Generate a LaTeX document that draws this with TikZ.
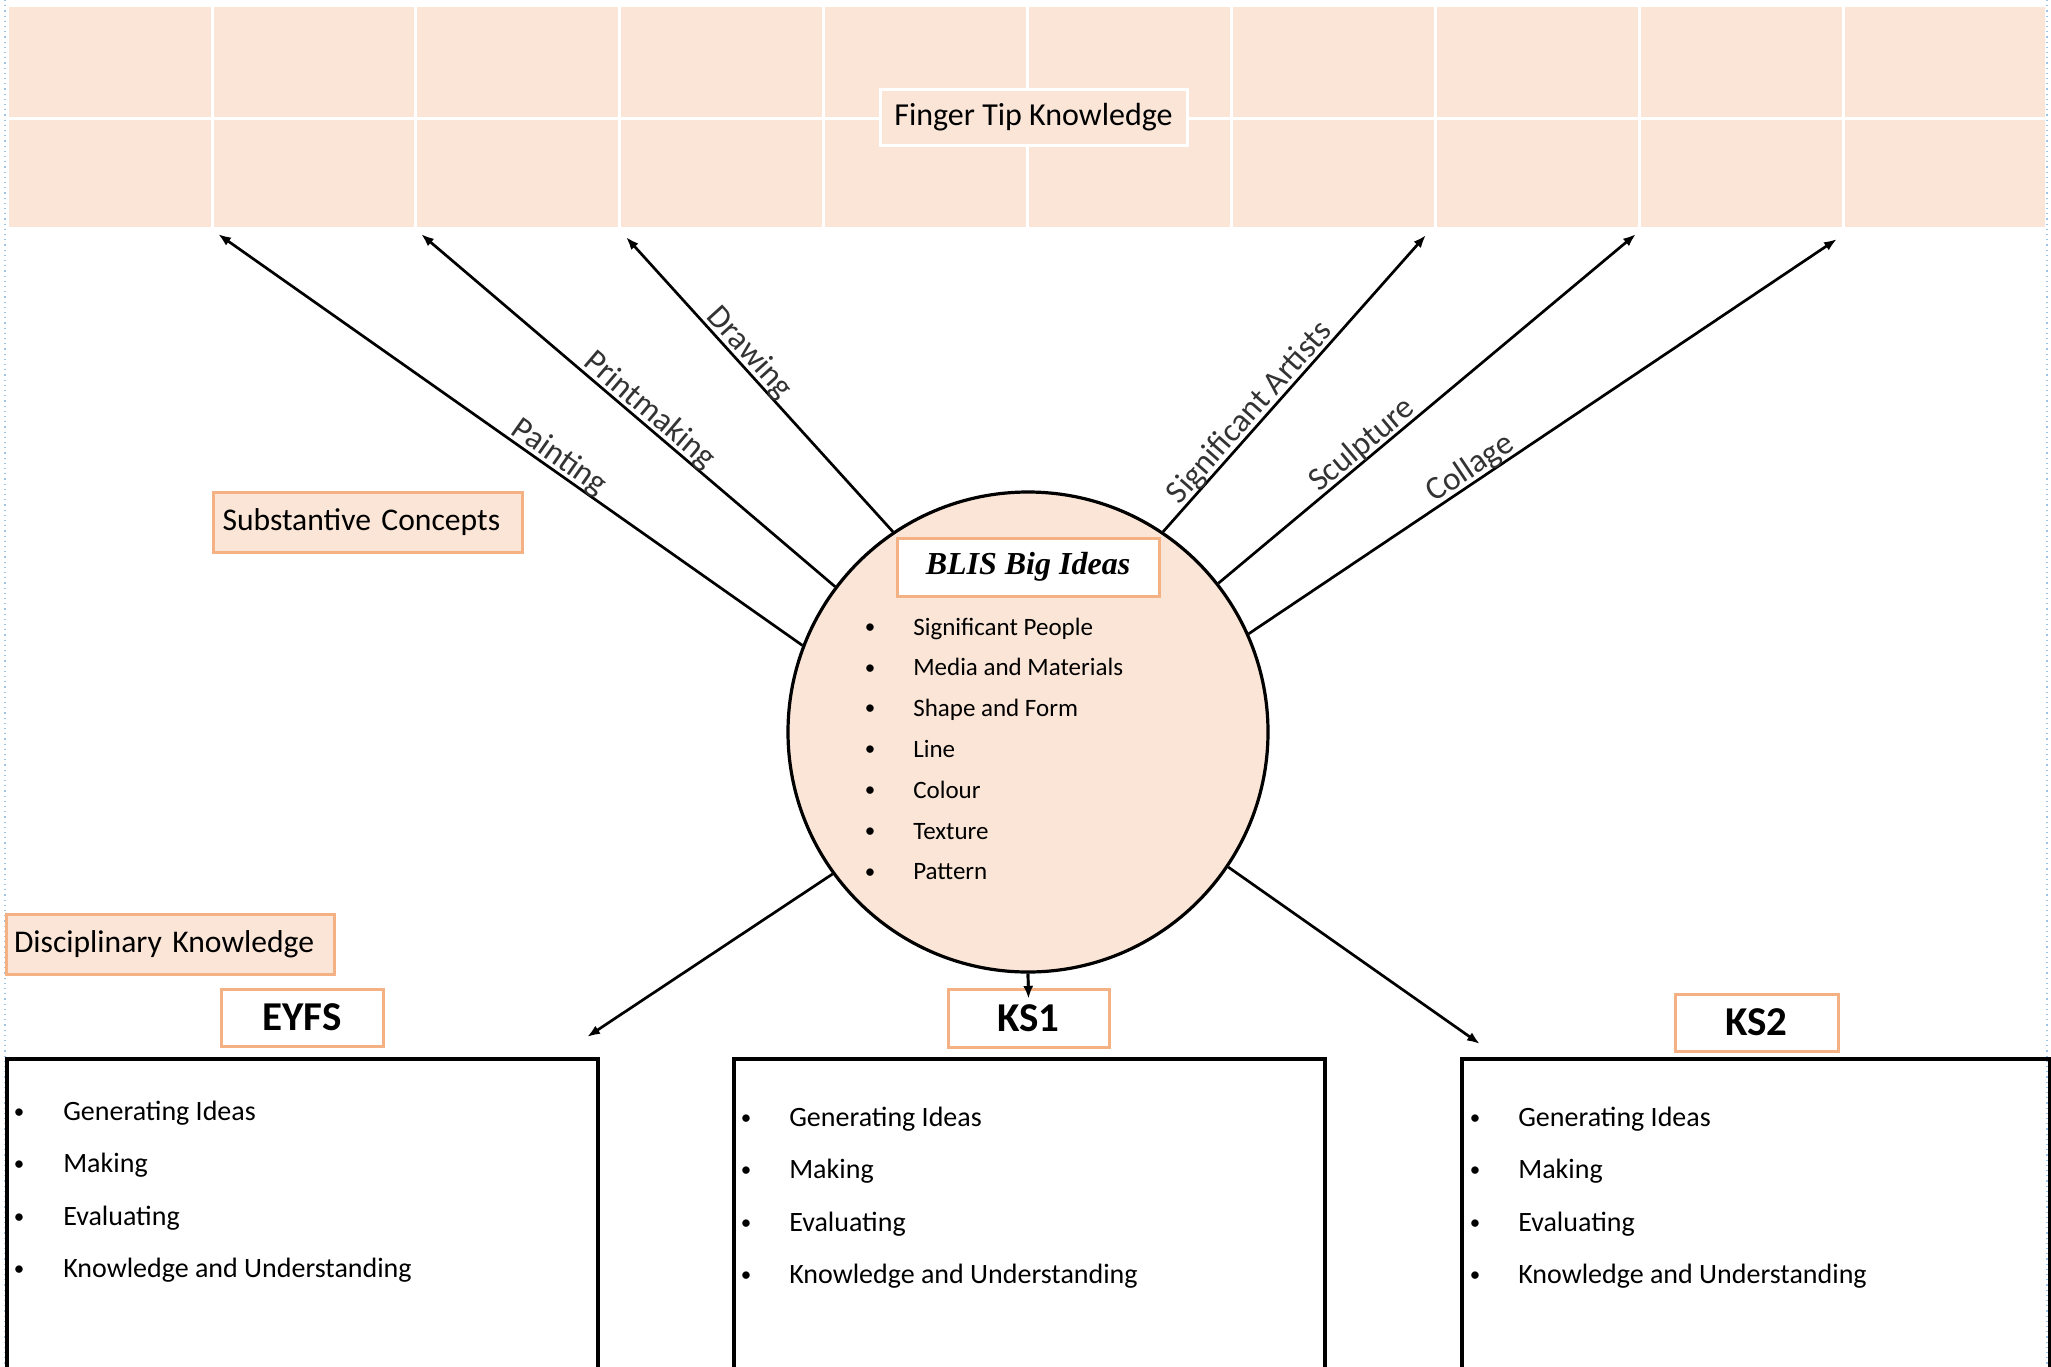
\documentclass[tikz,border=0pt]{standalone}
\usepackage{fontspec}
\setmainfont{Carlito}
\newfontfamily\blisfont{Liberation Serif}
\usetikzlibrary{arrows.meta}
\definecolor{peach}{HTML}{FBE5D6}
\definecolor{orangeb}{HTML}{F4B183}
\definecolor{guide}{HTML}{9DC3E6}
\newcommand\bdot{\raisebox{0.9pt}{\fontsize{10.5pt}{10.5pt}\selectfont •}}
\begin{document}
\begin{tikzpicture}[x=0.5pt,y=-0.5pt,
  arr/.style={-{Latex[length=6.5pt,width=4.8pt]}, line width=1.35pt},
  lbl/.style={sloped, above=-2pt, inner sep=1pt, font=\fontsize{16.5pt}{18pt}\selectfont, text=black!80},
  obox/.style={draw=orangeb, line width=1.5pt, fill=white, inner sep=0pt},
  pbox/.style={draw=orangeb, line width=1.5pt, fill=peach, align=left, font=\fontsize{15.8pt}{18pt}\selectfont},
  kslbl/.style={obox, font=\fontsize{20.5pt}{24pt}\selectfont\bfseries},
  bigbox/.style={draw, line width=2pt, anchor=north west, inner sep=0pt, minimum height=200pt},
  boxitem/.style={anchor=base west, inner sep=0pt, font=\fontsize{14pt}{16pt}\selectfont},
  circitem/.style={anchor=base west, inner sep=0pt, font=\fontsize{12.5pt}{15pt}\selectfont}
]
\useasboundingbox (0,0) rectangle (2051,1366);
\clip (0,0) rectangle (2051,1366);
% page guides
\draw[guide, dotted, line width=0.6pt] (5,0) -- (5,1366);
\draw[guide, dotted, line width=0.6pt] (2047,0) -- (2047,1366);
% top band
\fill[peach] (9,7) rectangle (2045,227);
\foreach \x in {212,415,619,823,1027,1231,1435,1639,1843}
  \draw[white, line width=1.5pt] (\x,7) -- (\x,227);
\draw[white, line width=1.5pt] (9,118) -- (2045,118);
\node[draw=white, fill=peach, line width=1.5pt, minimum width=153.5pt, minimum height=28pt, inner sep=0pt,
  font=\fontsize{16pt}{18pt}\selectfont] (ft) at (1033.5,117) {Finger Tip Knowledge};
% circle
\node[circle, draw, fill=peach, line width=1.6pt, minimum size=240pt, inner sep=0pt] (c) at (1028,732) {};
% arrow tips
\coordinate (tp1) at (218,234);
\coordinate (tp2) at (421,234);
\coordinate (tp3) at (626,237);
\coordinate (tp4) at (1426,235);
\coordinate (tp5) at (1636,234);
\coordinate (tp6) at (1837,239);
\coordinate (teyfs) at (587,1037);
\coordinate (tks1) at (1028.5,999);
\coordinate (tks2) at (1480,1044);
\draw[arr] (c.159.6) -- (tp1) node[lbl, pos=0.43] {Painting};
\draw[arr] (c.143.2) -- (tp2) node[lbl, pos=0.47] {Printmaking};
\draw[arr] (c.124.3) -- (tp3) node[lbl, pos=0.575] {Drawing};
\draw[arr] (c.56.2) -- (tp4) node[lbl, pos=0.37] {Significant Artists};
\draw[arr] (c.38.3) -- (tp5) node[lbl, pos=0.365] {Sculpture};
\draw[arr] (c.24.1) -- (tp6) node[lbl, pos=0.39] {Collage};
% circle contents
\node[obox, minimum width=131pt, minimum height=29pt,
  font=\blisfont\bfseries\itshape\fontsize{16pt}{18pt}\selectfont] (blis) at (1028,567) {BLIS Big Ideas};
\foreach \t [count=\i] in {Significant People, Media and Materials, Shape and Form, Line, Colour, Texture, Pattern}
  \node[circitem] (ci\i) at (864.5, {635+40.8*(\i-1)}) {\makebox[24.2pt][l]{\bdot}\t};
% side labels
\node[pbox, anchor=west, text width=145.5pt, inner xsep=4.5pt, inner ysep=0pt, minimum height=30pt] (sub) at (212,522) {Substantive Concepts};
\node[pbox, anchor=west, text width=156.5pt, inner xsep=3.75pt, inner ysep=0pt, minimum height=30pt] (dis) at (5,944) {Disciplinary Knowledge};
% key stage boxes
\node[bigbox, minimum width=295.5pt] (eybox) at (5,1057) {};
\node[bigbox, minimum width=295.5pt] (k1box) at (732,1057) {};
\node[bigbox, minimum width=294pt] (k2box) at (1460,1057) {};
\draw[arr] (c.216.7) -- (teyfs);
\draw[arr] (c.south) -- (tks1);
\draw[arr] (c.326.1) -- (tks2);
\node[kslbl, minimum width=81pt, minimum height=28.5pt] (eyfs) at (302,1017.5) {EYFS};
\node[kslbl, minimum width=80.5pt, minimum height=29pt] (ks1) at (1028.5,1018) {KS1};
\node[kslbl, minimum width=81.5pt, minimum height=28.5pt] (ks2) at (1756.5,1022.5) {KS2};
\draw[arr] (c.south) -- (tks1);
\foreach \t [count=\i] in {Generating Ideas, Making, Evaluating, Knowledge and Understanding}{
  \node[boxitem] (ey\i) at (13.5, {1067.5+52.5*\i}) {\makebox[24.7pt][l]{\bdot}\t};
  \node[boxitem] (ka\i) at (740.5, {1073.5+52.5*\i}) {\makebox[24.2pt][l]{\bdot}\t};
  \node[boxitem] (kb\i) at (1469.5, {1073.5+52.5*\i}) {\makebox[24.2pt][l]{\bdot}\t};
}
\end{tikzpicture}
\end{document}
